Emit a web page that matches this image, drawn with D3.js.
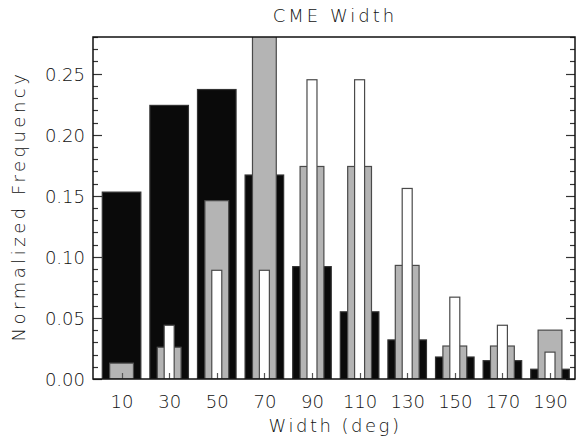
<!DOCTYPE html>
<html>
<head>
<meta charset="utf-8">
<script src="https://cdn.jsdelivr.net/npm/d3@7"></script>
<style>
    body { margin: 0; background: #fff; }
    text { font-family: "DejaVu Sans", sans-serif; font-weight: 200; fill: #111; }
</style>
</head>
<body>
<div id="chart-area"></div>
<script>

// data
const widthBins = [10, 30, 50, 70, 90, 110, 130, 150, 170, 190];
const blackFreq = [0.153, 0.224, 0.237, 0.167, 0.092, 0.055, 0.032, 0.018, 0.015, 0.008];
const grayFreq  = [0.013, 0.026, 0.146, 0.310, 0.174, 0.174, 0.093, 0.027, 0.027, 0.040];
const whiteFreq = [0.000, 0.044, 0.089, 0.089, 0.245, 0.245, 0.156, 0.067, 0.044, 0.022];
const yTickValues = [0, 0.05, 0.10, 0.15, 0.20, 0.25];


// constructor
histVis = function(_parentElement) {
    this.parentElement = _parentElement;
    this.initVis();
};

histVis.prototype.initVis = function() {
    let vis = this;

    vis.width = 576;
    vis.height = 443;
    vis.margin = {top: 37, right: 1, bottom: 64, left: 93};

    vis.svg = d3.select("#" + vis.parentElement).append("svg")
        .attr("width", vis.width)
        .attr("height", vis.height);

    vis.x = d3.scaleLinear()
        .domain([-2, 200.5])
        .range([vis.margin.left, vis.width - vis.margin.right]);

    vis.y = d3.scaleLinear()
        .domain([0, 0.28])
        .range([vis.height - vis.margin.bottom, vis.margin.top]);

    vis.svg.append("clipPath").attr("id", "plot-clip")
        .append("rect")
        .attr("x", vis.x.range()[0])
        .attr("y", vis.y.range()[1])
        .attr("width", vis.x.range()[1] - vis.x.range()[0])
        .attr("height", vis.y.range()[0] - vis.y.range()[1]);

    vis.updateVis();
};

histVis.prototype.updateVis = function() {
    let vis = this;

    let bars = vis.svg.append("g").attr("clip-path", "url(#plot-clip)");

    // three overlaid series, widest first
    let series = [
        {values: blackFreq, half: 8.1, fill: "#0a0a0a", stroke: "#333"},
        {values: grayFreq,  half: 5.0, fill: "#b4b4b4", stroke: "#4a4a4a"},
        {values: whiteFreq, half: 2.1, fill: "#ffffff", stroke: "#4a4a4a"}
    ];

    series.forEach(function(s) {
        bars.selectAll(null)
            .data(widthBins.map((b, i) => ({bin: b, v: s.values[i]})).filter(d => d.v > 0))
            .enter()
            .append("rect")
            .attr("x", d => vis.x(d.bin - s.half))
            .attr("width", d => vis.x(d.bin + s.half) - vis.x(d.bin - s.half))
            .attr("y", d => vis.y(d.v))
            .attr("height", d => vis.y(0) - vis.y(d.v))
            .attr("fill", s.fill)
            .attr("stroke", s.stroke)
            .attr("stroke-width", 1.2);
    });

    // y axes (left with labels, right mirrored), minor ticks every 0.01
    let minor = d3.range(0, 0.2801, 0.01);
    let yLeft = d3.axisLeft(vis.y).tickValues(yTickValues).tickFormat(d3.format(".2f")).tickSize(0).tickPadding(8);
    let gl = vis.svg.append("g")
        .attr("transform", `translate(${vis.x.range()[0]},0)`)
        .call(yLeft);
    gl.select(".domain").remove();
    gl.selectAll("text").style("font-size", "18px").attr("dy", "0.36em");

    let ticks = vis.svg.append("g").attr("stroke", "#333").attr("stroke-width", 1.2);
    [vis.x.range()[0], vis.x.range()[1]].forEach(function(x0, k) {
        let dir = k === 0 ? 1 : -1;
        ticks.selectAll(null)
            .data(minor)
            .enter()
            .append("line")
            .attr("x1", x0)
            .attr("x2", d => x0 + dir * (Math.round(d * 100) % 5 === 0 ? 9 : 5))
            .attr("y1", d => Math.round(vis.y(d)) + 0.5)
            .attr("y2", d => Math.round(vis.y(d)) + 0.5);
    });

    // x axis: category labels with small centre ticks
    let xAxis = d3.axisBottom(vis.x).tickValues(widthBins).tickSize(0).tickPadding(16);
    let gx = vis.svg.append("g")
        .attr("transform", `translate(0,${vis.y(0)})`)
        .call(xAxis);
    gx.select(".domain").remove();
    gx.selectAll("text").style("font-size", "18px");

    vis.svg.append("g").selectAll("line")
        .data(widthBins)
        .enter()
        .append("line")
        .attr("x1", d => Math.round(vis.x(d)) + 0.5)
        .attr("x2", d => Math.round(vis.x(d)) + 0.5)
        .attr("y1", vis.y(0))
        .attr("y2", vis.y(0) - 6)
        .attr("stroke", "#555")
        .attr("stroke-width", 1.2);

    // frame
    vis.svg.append("rect")
        .attr("x", vis.x.range()[0])
        .attr("y", vis.y.range()[1])
        .attr("width", vis.x.range()[1] - vis.x.range()[0])
        .attr("height", vis.y.range()[0] - vis.y.range()[1])
        .attr("fill", "none")
        .attr("stroke", "#111")
        .attr("stroke-width", 1.5);

    // titles
    vis.svg.append("text")
        .attr("x", 335).attr("y", 22)
        .attr("text-anchor", "middle")
        .style("font-size", "18px")
        .style("letter-spacing", "3px")
        .text("CME Width");

    vis.svg.append("text")
        .attr("x", 335).attr("y", 432)
        .attr("text-anchor", "middle")
        .style("font-size", "18px")
        .style("letter-spacing", "2.5px")
        .text("Width (deg)");

    vis.svg.append("text")
        .attr("transform", "translate(25,206) rotate(-90)")
        .attr("text-anchor", "middle")
        .style("font-size", "18px")
        .style("letter-spacing", "3.5px")
        .text("Normalized Frequency");
};

new histVis("chart-area");
</script>
</body>
</html>
